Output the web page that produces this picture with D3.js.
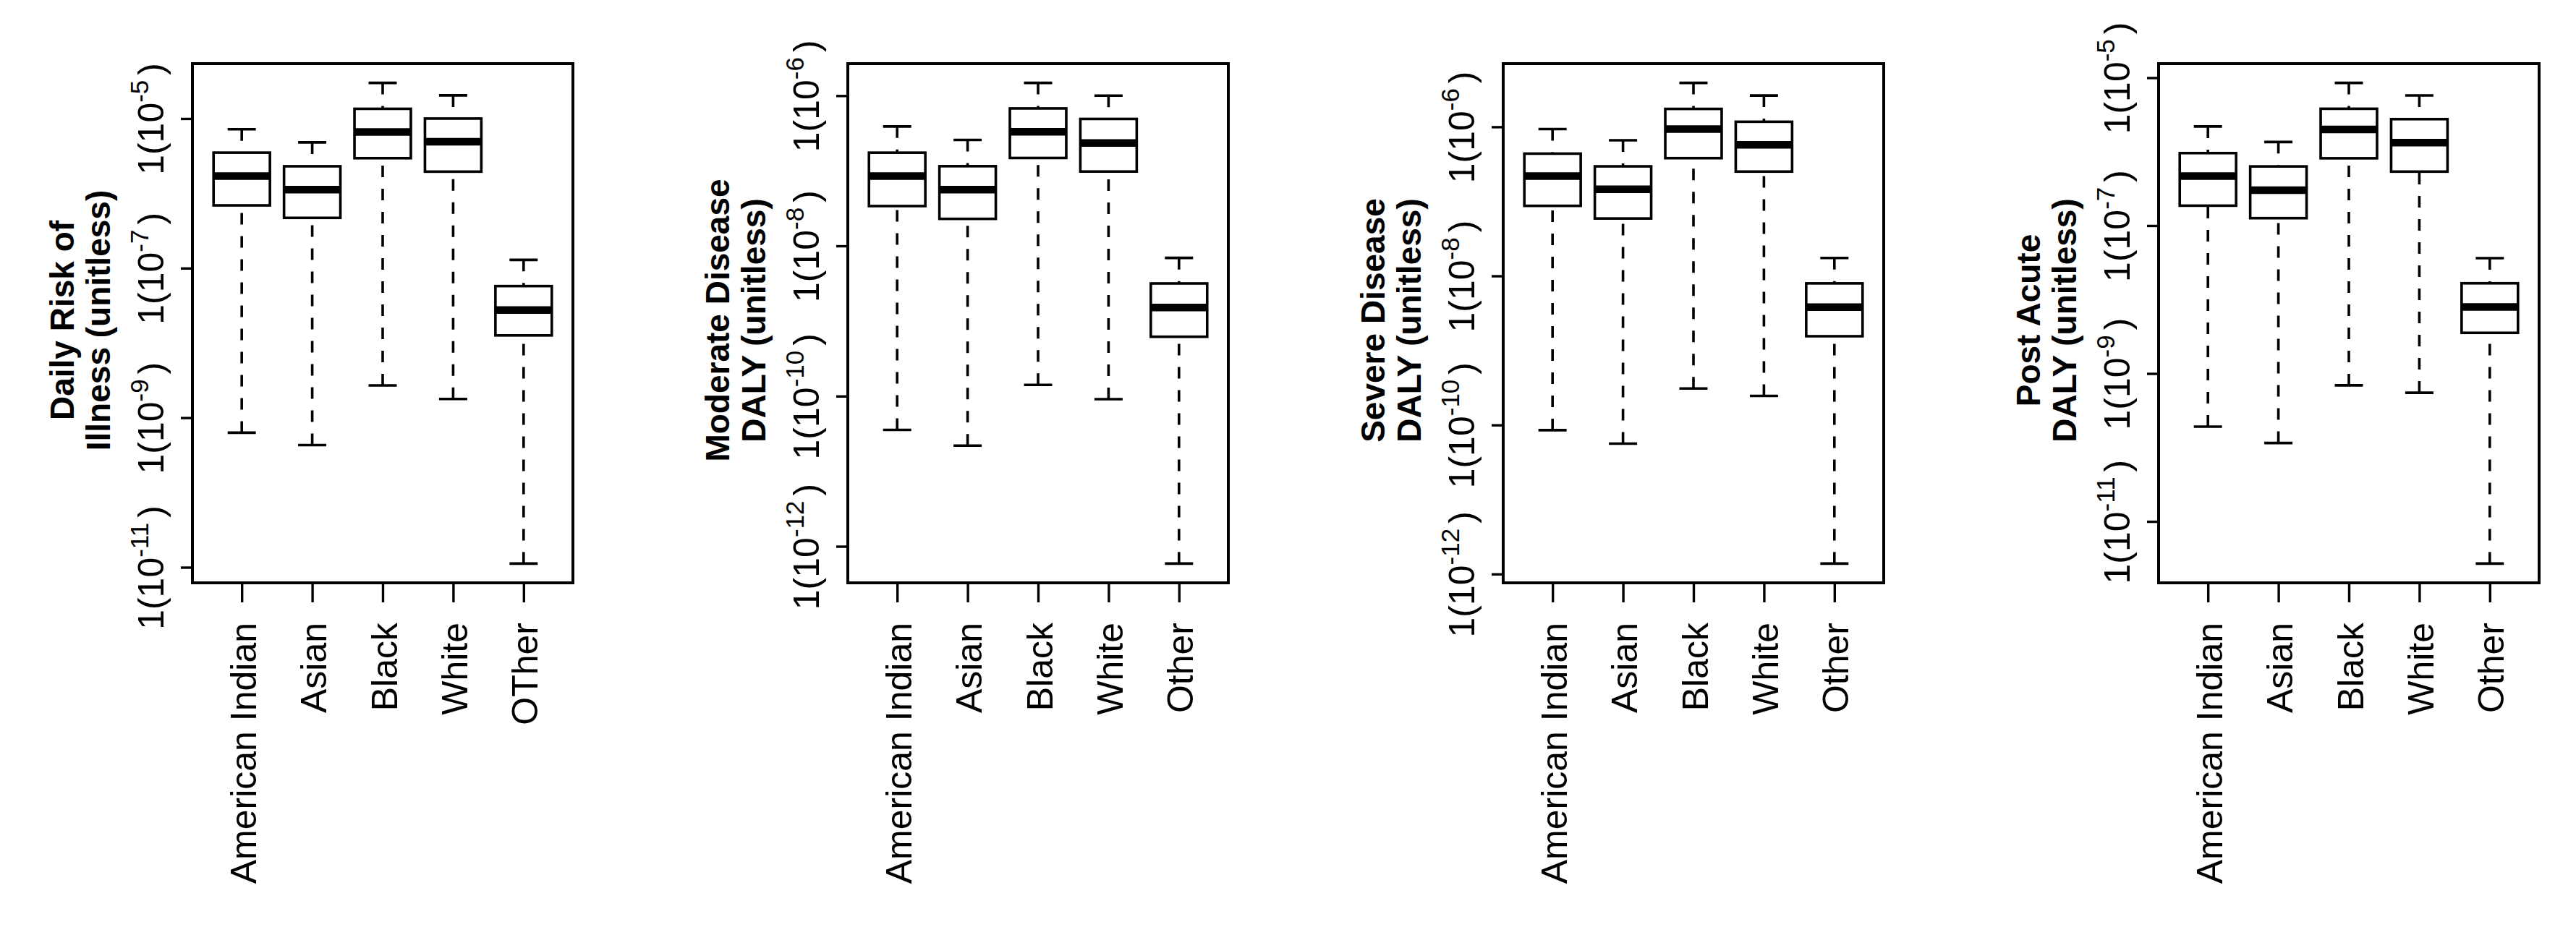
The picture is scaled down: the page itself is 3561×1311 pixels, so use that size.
<!DOCTYPE html>
<html>
<head>
<meta charset="utf-8">
<script src="https://cdn.jsdelivr.net/npm/d3@7"></script>
<style>
  html, body { margin: 0; padding: 0; background: #fff; }
  svg text { font-family: "Liberation Sans", Arial, sans-serif; fill: #000; }
</style>
</head>
<body>
<div id="chart"></div>
<script>
// categories (first panel has the typo from the original figure)
const races = ["American Indian", "Asian", "Black", "White", "Other"];
const racesFirst = ["American Indian", "Asian", "Black", "White", "OTher"];

// y axis titles, two lines each
const titles = [
    ["Daily Risk of", "Illness (unitless)"],
    ["Moderate Disease", "DALY (unitless)"],
    ["Severe Disease", "DALY (unitless)"],
    ["Post Acute", "DALY (unitless)"]
];

// exponents used for the 1(10^x) tick labels
const tickExponents = [
    [-5, -7, -9, -11],
    [-6, -8, -10, -12],
    [-6, -8, -10, -12],
    [-5, -7, -9, -11]
];

// box stats per race: [lower whisker, Q1, median, Q3, upper whisker]
const riskStats = [
    [6.3e-10, 6.9e-7, 1.7e-6, 3.5e-6, 7.2e-6],
    [4.3e-10, 4.7e-7, 1.12e-6, 2.3e-6, 4.8e-6],
    [2.7e-9, 2.95e-6, 6.6e-6, 1.35e-5, 3.0e-5],
    [1.78e-9, 1.95e-6, 4.9e-6, 1.0e-5, 2.04e-5],
    [1.12e-11, 1.26e-8, 2.75e-8, 5.75e-8, 1.29e-7]
];
const moderateStats = [
    [3.55e-11, 3.39e-8, 8.51e-8, 1.74e-7, 3.89e-7],
    [2.19e-11, 2.29e-8, 5.62e-8, 1.15e-7, 2.57e-7],
    [1.41e-10, 1.48e-7, 3.31e-7, 6.76e-7, 1.48e-6],
    [9.12e-11, 9.77e-8, 2.34e-7, 4.9e-7, 1.0e-6],
    [5.89e-13, 6.17e-10, 1.51e-9, 3.16e-9, 6.92e-9]
];
const severeStats = [
    [8.51e-11, 8.71e-8, 2.19e-7, 4.37e-7, 9.33e-7],
    [5.62e-11, 5.89e-8, 1.45e-7, 2.95e-7, 6.61e-7],
    [3.09e-10, 3.8e-7, 9.33e-7, 1.74e-6, 3.89e-6],
    [2.45e-10, 2.51e-7, 5.75e-7, 1.17e-6, 2.63e-6],
    [1.38e-12, 1.55e-9, 3.8e-9, 7.94e-9, 1.74e-8]
];
const postAcuteStats = [
    [1.91e-10, 1.86e-7, 4.68e-7, 9.55e-7, 2.19e-6],
    [1.15e-10, 1.26e-7, 3.02e-7, 6.31e-7, 1.35e-6],
    [6.92e-10, 8.13e-7, 2.0e-6, 3.8e-6, 8.51e-6],
    [5.5e-10, 5.37e-7, 1.32e-6, 2.75e-6, 5.75e-6],
    [2.69e-12, 3.55e-9, 7.94e-9, 1.66e-8, 3.63e-8]
];

const panelStats = [riskStats, moderateStats, severeStats, postAcuteStats];
const panelRaces = [racesFirst, races, races, races];


class BoxPanel {

    constructor(svg, idx) {
        this.svg = svg;
        this.idx = idx;
        this.stats = panelStats[idx];
        this.cats = panelRaces[idx];
        this.draw();
    }

    draw() {
        // plot region of each panel
        this.width = 526;
        this.height = 718;
        this.left = 266 + this.idx * 906;
        this.top = 88;

        this.plot = this.svg.append('g')
            .attr('transform', `translate(${this.left},${this.top})`);

        this.createScales();
        this.addBoxes();
        this.addAxes();
        this.addFrame();
    }

    createScales() {
        // R style: log extent padded by 4% on each side
        const logs = this.stats.flat().map(v => Math.log10(v));
        const lo = d3.min(logs), hi = d3.max(logs);
        const pad = (hi - lo) * 0.04;

        this.yScale = d3.scaleLog()
            .domain([Math.pow(10, lo - pad), Math.pow(10, hi + pad)])
            .range([this.height, 0]);

        this.xScale = d3.scalePoint()
            .domain(this.cats)
            .range([0, this.width])
            .padding(0.7);

        this.boxW = this.xScale.step() * 0.8;
        this.capW = this.xScale.step() * 0.4;
    }

    addBoxes() {
        const _this = this;
        const rows = this.stats.map((s, i) => ({cat: this.cats[i], s: s}));

        const g = this.plot.append('g')
            .selectAll('g')
            .data(rows)
            .enter()
            .append('g')
            .attr('transform', d => `translate(${_this.xScale(d.cat)},0)`);

        // whiskers, drawn from the end towards the box like bxp does
        g.append('line')
            .attr('y1', d => _this.yScale(d.s[0]))
            .attr('y2', d => _this.yScale(d.s[1]))
            .attr('stroke', '#000').attr('stroke-width', 3.6)
            .attr('stroke-dasharray', '16,16');
        g.append('line')
            .attr('y1', d => _this.yScale(d.s[4]))
            .attr('y2', d => _this.yScale(d.s[3]))
            .attr('stroke', '#000').attr('stroke-width', 3.6)
            .attr('stroke-dasharray', '16,16');

        // staples
        [0, 4].forEach(k => {
            g.append('line')
                .attr('x1', -_this.capW / 2).attr('x2', _this.capW / 2)
                .attr('y1', d => _this.yScale(d.s[k]))
                .attr('y2', d => _this.yScale(d.s[k]))
                .attr('stroke', '#000').attr('stroke-width', 3.6);
        });

        g.append('rect')
            .attr('x', -this.boxW / 2)
            .attr('width', this.boxW)
            .attr('y', d => _this.yScale(d.s[3]))
            .attr('height', d => _this.yScale(d.s[1]) - _this.yScale(d.s[3]))
            .attr('fill', '#fff')
            .attr('stroke', '#000').attr('stroke-width', 3.6);

        g.append('line')
            .attr('x1', -this.boxW / 2).attr('x2', this.boxW / 2)
            .attr('y1', d => _this.yScale(d.s[2]))
            .attr('y2', d => _this.yScale(d.s[2]))
            .attr('stroke', '#000').attr('stroke-width', 10.5);
    }

    addAxes() {
        const exps = tickExponents[this.idx];

        const xAxis = d3.axisBottom(this.xScale)
            .tickSize(27).tickSizeOuter(0);
        const xg = this.plot.append('g')
            .attr('transform', `translate(0,${this.height})`)
            .call(xAxis);
        xg.select('.domain').remove();
        xg.selectAll('line').attr('stroke', '#000').attr('stroke-width', 3.4);
        xg.selectAll('text')
            .attr('transform', 'rotate(-90)')
            .attr('x', -55).attr('y', 19).attr('dy', 0)
            .attr('text-anchor', 'end')
            .style('font-size', '50px')
            .style('font-family', '"Liberation Sans", Arial, sans-serif');

        const yAxis = d3.axisLeft(this.yScale)
            .tickValues(exps.map(e => Math.pow(10, e)))
            .tickSize(16).tickSizeOuter(0)
            .tickFormat('');
        const yg = this.plot.append('g').call(yAxis);
        yg.select('.domain').remove();
        yg.selectAll('line').attr('stroke', '#000').attr('stroke-width', 3.4);

        // 1(10^x) labels with a raised exponent
        yg.selectAll('.tick').each(function(d, i) {
            const t = d3.select(this).append('text')
                .attr('transform', 'translate(-40,0) rotate(-90)')
                .attr('text-anchor', 'middle')
                .attr('fill', '#000')
                .style('font-size', '50px')
                .style('font-family', '"Liberation Sans", Arial, sans-serif');
            t.append('tspan').text('1(10');
            t.append('tspan').attr('dy', -21).style('font-size', '35px').text(exps[i]);
            t.append('tspan').attr('dy', 21).attr('dx', 7).text(')');
        });

        // two-line bold title
        const title = titles[this.idx];
        title.forEach((line, k) => {
            this.plot.append('text')
                .attr('transform', `translate(${k === 0 ? -164 : -114},${this.height / 2 - 4}) rotate(-90)`)
                .attr('text-anchor', 'middle')
                .style('font-size', '46px')
                .style('font-weight', 'bold')
                .text(line);
        });
    }

    addFrame() {
        this.plot.append('rect')
            .attr('width', this.width)
            .attr('height', this.height)
            .attr('fill', 'none')
            .attr('stroke', '#000')
            .attr('stroke-width', 4);
    }
}

const svg = d3.select('#chart').append('svg')
    .attr('width', 3561)
    .attr('height', 1311)
    .style('background', '#fff');

panelStats.forEach((s, i) => new BoxPanel(svg, i));
</script>
</body>
</html>
